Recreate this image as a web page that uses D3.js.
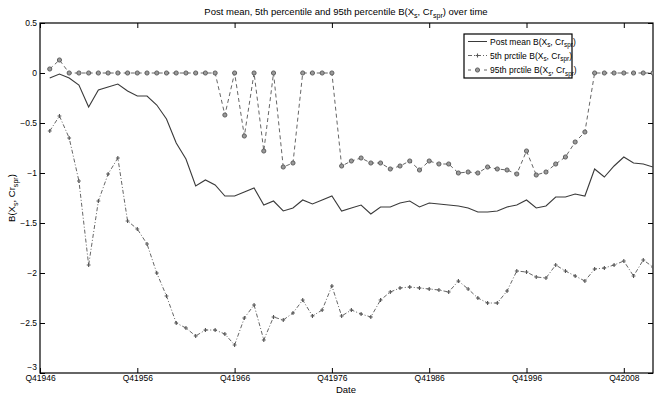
<!DOCTYPE html>
<html>
<head>
<meta charset="utf-8">
<script src="https://cdn.jsdelivr.net/npm/d3@7"></script>
<style>
  html, body { margin: 0; padding: 0; background: #fff; }
  svg { display: block; font-family: "Liberation Sans", Arial, Helvetica, sans-serif; }
</style>
</head>
<body>
<svg id="chart" width="665" height="395"></svg>
<script>
// Annual observations, one per year (index 0 = first observation)
const postMean = [
  -0.05, -0.01, -0.05, -0.12, -0.34, -0.17, -0.14, -0.11, -0.18, -0.23,
  -0.23, -0.32, -0.46, -0.70, -0.86, -1.13, -1.07, -1.12, -1.23, -1.23,
  -1.19, -1.15, -1.32, -1.28, -1.38, -1.35, -1.27, -1.31, -1.27, -1.23,
  -1.38, -1.35, -1.32, -1.41, -1.34, -1.34, -1.30, -1.28, -1.34, -1.30,
  -1.31, -1.32, -1.33, -1.35, -1.39, -1.39, -1.38, -1.34, -1.32, -1.27,
  -1.35, -1.33, -1.24, -1.24, -1.21, -1.23, -0.96, -1.04, -0.93, -0.84,
  -0.90, -0.91, -0.94
];
const pct5 = [
  -0.58, -0.43, -0.65, -1.08, -1.92, -1.28, -1.01, -0.85, -1.48, -1.56,
  -1.71, -2.00, -2.23, -2.50, -2.55, -2.63, -2.57, -2.57, -2.61, -2.72,
  -2.45, -2.32, -2.67, -2.44, -2.47, -2.40, -2.27, -2.43, -2.37, -2.13,
  -2.43, -2.37, -2.41, -2.44, -2.27, -2.19, -2.15, -2.14, -2.15, -2.16,
  -2.17, -2.19, -2.08, -2.16, -2.25, -2.30, -2.30, -2.18, -1.98, -1.99,
  -2.04, -2.05, -1.92, -1.98, -2.03, -2.08, -1.96, -1.95, -1.92, -1.88,
  -2.03, -1.87, -1.94
];
const pct95 = [
   0.04,  0.13,  0.00,  0.00,  0.00,  0.00,  0.00,  0.00,  0.00,  0.00,
   0.00,  0.00,  0.00,  0.00,  0.00,  0.00,  0.00,  0.00, -0.42,  0.00,
  -0.63,  0.00, -0.78,  0.00, -0.94, -0.90,  0.00,  0.00,  0.00,  0.00,
  -0.93, -0.88, -0.85, -0.90, -0.90, -0.96, -0.93, -0.88, -0.97, -0.88,
  -0.91, -0.91, -1.00, -0.99, -1.00, -0.94, -0.96, -0.97, -1.01, -0.78,
  -1.02, -0.99, -0.91, -0.84, -0.69, -0.59,  0.00,  0.00,  0.00,  0.00,
   0.00,  0.00,  0.00
];
// Date tick positions (observation index) and labels
const tickIndex = [-1, 9, 19, 29, 39, 49, 59];
const tickLabels = ["Q41946", "Q41956", "Q41966", "Q41976", "Q41986", "Q41996", "Q42008"];
const yTicks = [0.5, 0, -0.5, -1, -1.5, -2, -2.5, -3];

const svg = d3.select("#chart");
const plotL = 40, plotR = 653, plotT = 23, plotB = 373;

const x = d3.scaleLinear().domain([-1, 62]).range([plotL, plotR]);
const y = d3.scaleLinear().domain([-3, 0.5]).range([plotB, plotT]);

const fmt = v => (v === 0 ? "0" : String(v).replace("-", "\u2212"));

// Axes: ticks point inward, mirrored on the opposite sides
const tickLen = 5;
const axB = d3.axisBottom(x).tickValues(tickIndex).tickSize(-tickLen).tickPadding(2)
  .tickFormat((d, i) => tickLabels[i]);
const axT = d3.axisTop(x).tickValues(tickIndex).tickSize(-tickLen).tickFormat("");
const axL = d3.axisLeft(y).tickValues(yTicks).tickSize(-tickLen).tickPadding(3).tickFormat(fmt);
const axR = d3.axisRight(y).tickValues(yTicks).tickSize(-tickLen).tickFormat("");

function styleAxis(g) {
  g.select(".domain").remove();
  g.selectAll(".tick line").attr("stroke", "#000").attr("stroke-width", 1);
  g.selectAll(".tick text").attr("fill", "#000").attr("font-size", 8.5);
}
svg.append("g").attr("transform", `translate(0,${plotB})`).call(axB).call(styleAxis);
svg.append("g").attr("transform", `translate(0,${plotT})`).call(axT).call(styleAxis);
const gL = svg.append("g").attr("transform", `translate(${plotL},0)`).call(axL).call(styleAxis);
svg.append("g").attr("transform", `translate(${plotR},0)`).call(axR).call(styleAxis);
// the lowest y label sits just above the first date label
gL.selectAll(".tick text").filter(d => d === -3).attr("dy", "-0.4em");

// Plot frame
svg.append("rect")
  .attr("x", plotL).attr("y", plotT)
  .attr("width", plotR - plotL).attr("height", plotB - plotT)
  .attr("fill", "none").attr("stroke", "#000").attr("stroke-width", 1.2);

svg.append("clipPath").attr("id", "plotclip")
  .append("rect").attr("x", plotL).attr("y", plotT)
  .attr("width", plotR - plotL).attr("height", plotB - plotT);

const plot = svg.append("g").attr("clip-path", "url(#plotclip)");
const line = d3.line().x((d, i) => x(i)).y(d => y(d));

const grey = "#666";
const meanColor = "#3a3a3a";

// 5th percentile: dash-dot with plus markers
plot.append("path").datum(pct5)
  .attr("d", line).attr("fill", "none")
  .attr("stroke", grey).attr("stroke-width", 1)
  .attr("stroke-dasharray", "4,2,1,2");
const plusSize = 1.9;
plot.append("g").selectAll("path").data(pct5).join("path")
  .attr("d", (d, i) => {
    const cx = x(i), cy = y(d);
    return `M${cx - plusSize},${cy}H${cx + plusSize}M${cx},${cy - plusSize}V${cy + plusSize}`;
  })
  .attr("stroke", "#555").attr("stroke-width", 1.1);

// 95th percentile: dashed with circle markers
plot.append("path").datum(pct95)
  .attr("d", line).attr("fill", "none")
  .attr("stroke", grey).attr("stroke-width", 1)
  .attr("stroke-dasharray", "4,3");
plot.append("g").selectAll("circle").data(pct95).join("circle")
  .attr("cx", (d, i) => x(i)).attr("cy", d => y(d)).attr("r", 2.1)
  .attr("fill", "#999").attr("stroke", "#555").attr("stroke-width", 0.9);

// Posterior mean: solid line
plot.append("path").datum(postMean)
  .attr("d", line).attr("fill", "none")
  .attr("stroke", meanColor).attr("stroke-width", 1.1);

// Helper for text with subscripts: B(X_s, Cr_spr)
function bLabel(sel, prefix, suffix, size) {
  const sub = size * 0.75;
  sel.append("tspan").text(prefix + "B(X");
  sel.append("tspan").attr("dy", size * 0.35).attr("font-size", sub).text("s");
  sel.append("tspan").attr("dy", -size * 0.35).text(", Cr");
  sel.append("tspan").attr("dy", size * 0.35).attr("font-size", sub).text("spr");
  sel.append("tspan").attr("dy", -size * 0.35).text(")" + suffix);
}

// Title
const title = svg.append("text")
  .attr("x", 346).attr("y", 15).attr("text-anchor", "middle")
  .attr("font-size", 9.5).attr("fill", "#000");
bLabel(title, "Post mean, 5th percentile and 95th percentile ", " over time", 9.5);

// Axis titles
svg.append("text").attr("x", 346).attr("y", 393).attr("text-anchor", "middle")
  .attr("font-size", 9.5).attr("fill", "#000").text("Date");
const yl = svg.append("text")
  .attr("transform", "translate(15,198) rotate(-90)")
  .attr("text-anchor", "middle").attr("font-size", 9.5).attr("fill", "#000");
bLabel(yl, "", "", 9.5);

// Legend
const lg = svg.append("g");
lg.append("rect").attr("x", 464).attr("y", 34).attr("width", 108).attr("height", 44)
  .attr("fill", "#fff").attr("stroke", "#000").attr("stroke-width", 1.2);
const rows = [
  { y: 41.5, text: "Post mean ", kind: "mean" },
  { y: 55.5, text: "5th prctile ", kind: "p5" },
  { y: 70, text: "95th prctile ", kind: "p95" }
];
rows.forEach(r => {
  const l = lg.append("line").attr("x1", 468).attr("x2", 487).attr("y1", r.y).attr("y2", r.y)
    .attr("stroke-width", 1);
  if (r.kind === "mean") l.attr("stroke", meanColor);
  if (r.kind === "p5") {
    l.attr("stroke", grey).attr("stroke-dasharray", "4,2,1,2");
    lg.append("path").attr("d", `M${477.5 - plusSize},${r.y}H${477.5 + plusSize}M477.5,${r.y - plusSize}V${r.y + plusSize}`)
      .attr("stroke", "#555").attr("stroke-width", 1.1);
  }
  if (r.kind === "p95") {
    l.attr("stroke", grey).attr("stroke-dasharray", "3,5");
    lg.append("circle").attr("cx", 477.5).attr("cy", r.y).attr("r", 2.1)
      .attr("fill", "#999").attr("stroke", "#555").attr("stroke-width", 0.9);
  }
  const t = lg.append("text").attr("x", 490).attr("y", r.y + 3)
    .attr("font-size", 8.5).attr("fill", "#000");
  bLabel(t, r.text, "", 8.5);
});
</script>
</body>
</html>
